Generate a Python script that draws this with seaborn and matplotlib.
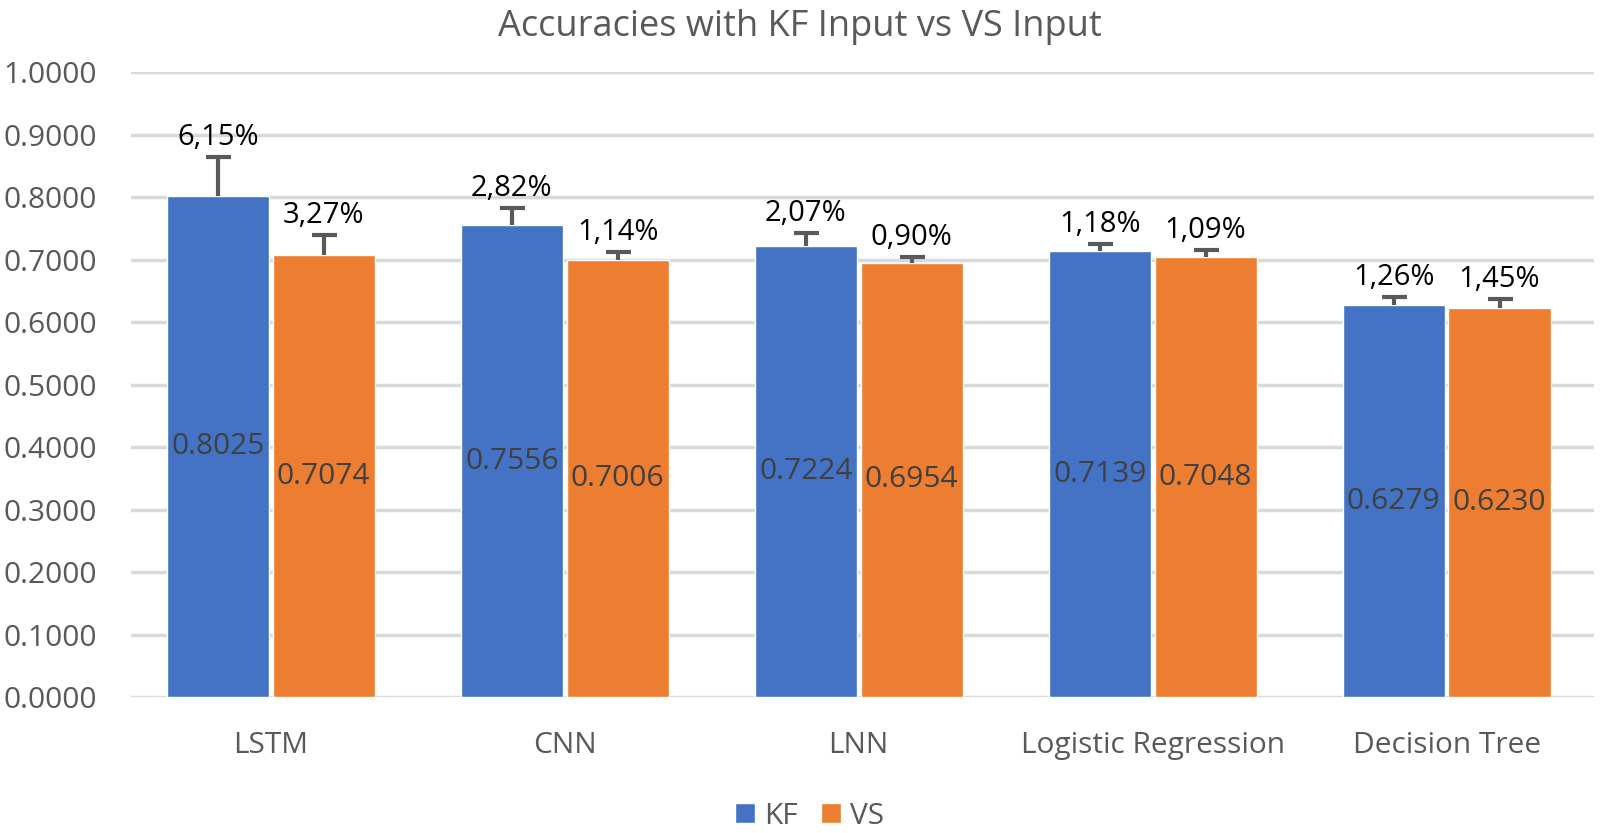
import matplotlib
matplotlib.use("Agg")
import matplotlib.pyplot as plt
import numpy as np
import pandas as pd
import seaborn as sns

# data
models = ["LSTM", "CNN", "LNN", "Logistic Regression", "Decision Tree"]
kf_acc = [0.8025, 0.7556, 0.7224, 0.7139, 0.6279]
vs_acc = [0.7074, 0.7006, 0.6954, 0.7048, 0.6230]
kf_err = [0.0615, 0.0282, 0.0207, 0.0118, 0.0126]
vs_err = [0.0327, 0.0114, 0.0090, 0.0109, 0.0145]
kf_err_lbl = ["6,15%", "2,82%", "2,07%", "1,18%", "1,26%"]
vs_err_lbl = ["3,27%", "1,14%", "0,90%", "1,09%", "1,45%"]

df = pd.DataFrame({
    "model": models * 2,
    "acc": kf_acc + vs_acc,
    "input": ["KF"] * len(models) + ["VS"] * len(models),
})

sns.set_theme(style="white")
plt.rcParams["font.family"] = ["Open Sans", "DejaVu Sans"]

fig = plt.figure(figsize=(16, 8.33), dpi=100)
ax = fig.add_axes([0.082, 0.163, 0.914, 0.750])

palette = {"KF": "#4472C4", "VS": "#ED7D31"}
sns.barplot(data=df, x="model", y="acc", hue="input", palette=palette,
            width=0.72, gap=0.035, saturation=1, errorbar=None, ax=ax, legend=True)

errs = [kf_err, vs_err]
err_lbls = [kf_err_lbl, vs_err_lbl]
vals = [kf_acc, vs_acc]
bar_groups = list(ax.containers[:2])
for k, cont in enumerate(bar_groups):
    for i, bar in enumerate(cont):
        xc = bar.get_x() + bar.get_width() / 2
        h = vals[k][i]
        eb = ax.errorbar(xc, h, yerr=[[0], [errs[k][i]]], fmt="none",
                         ecolor="#595959", elinewidth=3, capsize=9, capthick=3, zorder=3)
        eb[1][0].set_visible(False)  # only the upper cap, like the reference
        ax.text(xc, h + errs[k][i] + 0.008, err_lbls[k][i], ha="center", va="bottom",
                fontsize=21, color="black")
        ax.text(xc, h / 2, f"{h:.4f}", ha="center", va="center",
                fontsize=21.5, color="#404040")

ax.set_ylim(0, 1.0)
ax.set_xlim(-0.475, 4.5)
ax.set_yticks(np.arange(0, 1.01, 0.1))
ax.set_yticklabels([f"{v:.4f}" for v in np.arange(0, 1.01, 0.1)])
ax.yaxis.grid(True, color="#D9D9D9", linewidth=2.5)
ax.set_axisbelow(True)
for s in ax.spines.values():
    s.set_visible(False)
ax.tick_params(axis="both", length=0, labelsize=21.5, colors="#595959")
ax.tick_params(axis="x", pad=24)
ax.tick_params(axis="y", pad=92)
for lbl in ax.get_yticklabels():
    lbl.set_horizontalalignment("left")
ax.set_xlabel("")
ax.set_ylabel("")

fig.text(0.5, 0.968, "Accuracies with KF Input vs VS Input", fontsize=26,
         color="#595959", ha="center", va="center")

handles, labels = ax.get_legend_handles_labels()
ax.get_legend().remove()
fig.legend(handles, labels, loc="center", bbox_to_anchor=(0.506, 0.02), ncol=2,
           frameon=False, fontsize=21.5, handlelength=0.65, handleheight=0.65,
           handletextpad=0.3, columnspacing=0.8, labelcolor="#595959")

fig.savefig("out.png", dpi=100)
